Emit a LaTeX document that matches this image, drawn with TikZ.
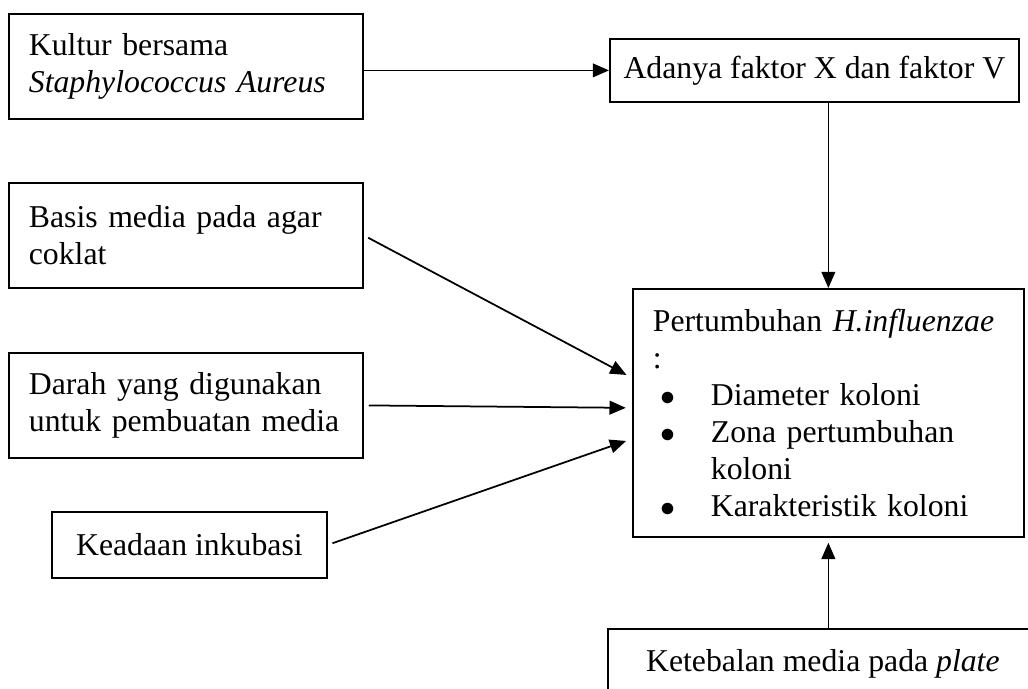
\documentclass[tikz,border=0pt]{standalone}
\usepackage{fontspec}
\setmainfont{Liberation Serif}
\usetikzlibrary{positioning,arrows.meta,calc}
\newcommand{\itm}[1]{\makebox[23.2pt][l]{\hspace{3.2pt}$\bullet$}#1}

\begin{document}
\begin{tikzpicture}[
  x=0.4pt, y=-0.4pt,
  blk/.style={draw, line width=0.7pt, anchor=north west, inner xsep=8pt, inner ysep=3pt, font=\fontsize{12.7}{14.8}\selectfont},
  txt/.style={blk, align=left, text width=#1*0.4pt-16pt, minimum width=#1*0.4pt},
  arr/.style={-{Triangle[length=6.5pt,width=5.5pt]}, line width=0.7pt}]
\useasboundingbox (0,0) rectangle (1028,688);
% left column
\node[txt=354, minimum height=42pt] (kultur) at (8,13) {Kultur bersama\\\textit{Staphylococcus Aureus}};
\node[txt=354, minimum height=42pt] (basis) at (8,182) {Basis media pada agar\\coklat};
\node[txt=354, minimum height=42pt] (darah) at (8,352) {Darah yang digunakan\\untuk pembuatan media};
\node[blk, minimum width=110pt, minimum height=26.4pt] (inkubasi) at (51,511) {Keadaan inkubasi};
% right column
\node[blk, inner xsep=3pt, minimum width=163.6pt, minimum height=25.2pt] (faktor) at (609,38) {Adanya faktor X dan faktor V};
\node[txt=391, minimum height=99.2pt] (growth) at (632,288) {Pertumbuhan \textit{H.influenzae}\\:\\\itm{Diameter koloni}\\\itm{Zona pertumbuhan}\\\hspace*{23.2pt}koloni\\\itm{Karakteristik koloni}};
\node[blk, minimum width=172pt, minimum height=28pt] (tebal) at (607,628) {Ketebalan media pada \textit{plate}};
% connectors
\draw[arr] (kultur.east |- faktor.west) -- (faktor.west);
\draw[arr] (faktor.south -| growth.north) -- (growth.north);
\foreach \a/\d in {basis/14pt,darah/2pt,inkubasi/-10.4pt}
  \draw[arr, shorten <=2pt, shorten >=2.5pt] (\a.east) -- ([yshift=\d]growth.west);
\draw[arr, shorten >=2pt] (tebal.north -| growth.south) -- (growth.south);
\end{tikzpicture}
\end{document}
